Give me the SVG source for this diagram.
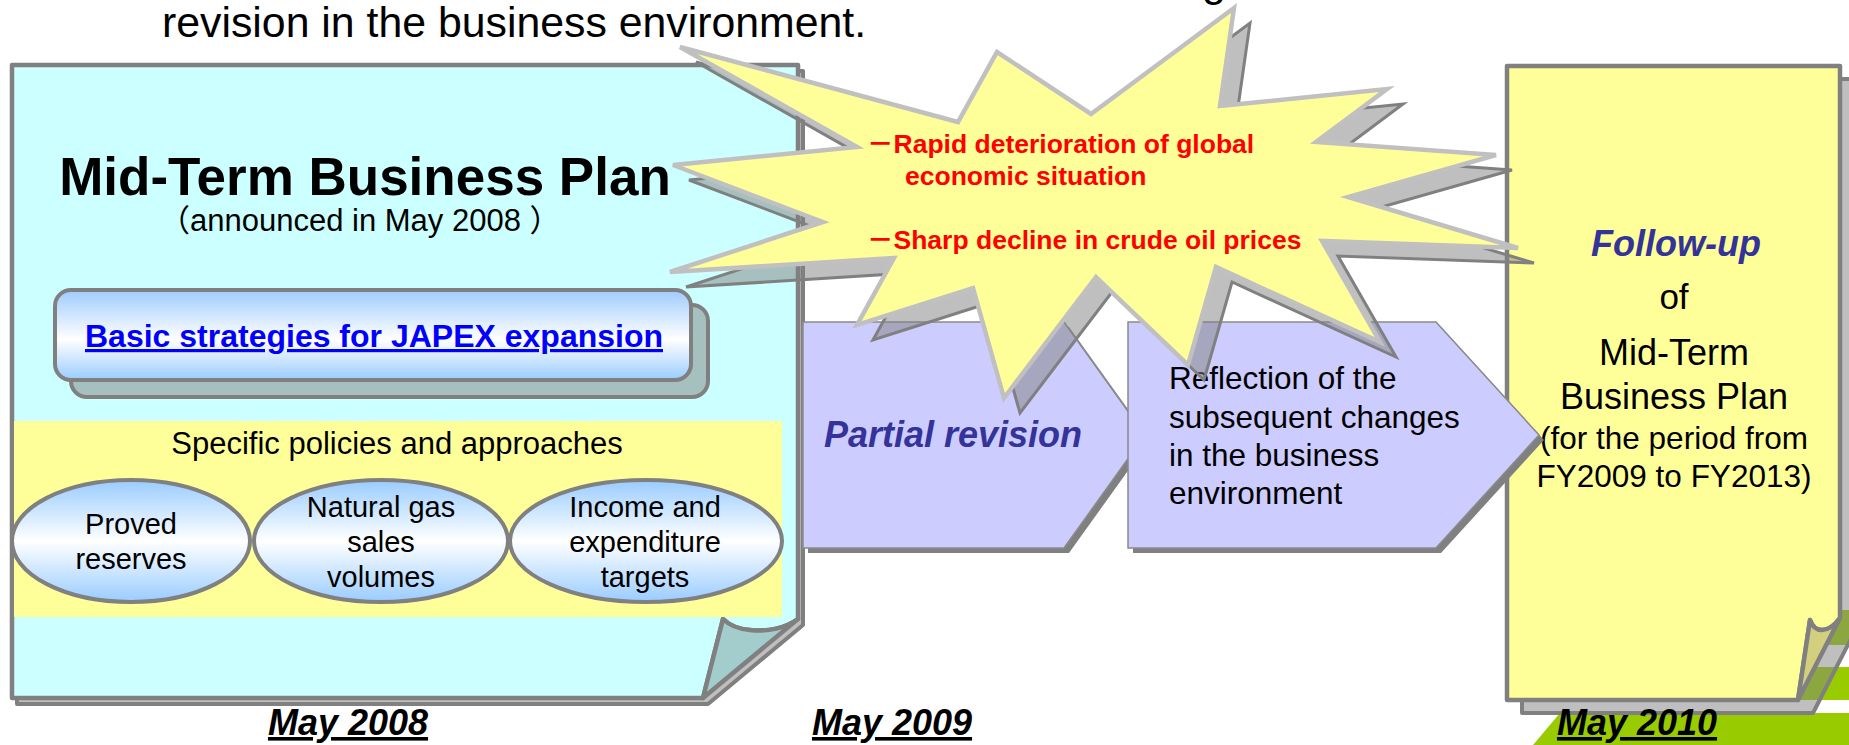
<svg xmlns="http://www.w3.org/2000/svg" width="1849" height="745" viewBox="0 0 1849 745">
  <defs>
    <linearGradient id="glossBlue" x1="0" y1="0" x2="0" y2="1">
      <stop offset="0" stop-color="#99CCFF"/>
      <stop offset="0.5" stop-color="#FFFFFF"/>
      <stop offset="1" stop-color="#99CCFF"/>
    </linearGradient>
    <linearGradient id="glossButton" x1="0" y1="0" x2="0" y2="1">
      <stop offset="0" stop-color="#9FCBFF"/>
      <stop offset="0.55" stop-color="#FFFFFF"/>
      <stop offset="1" stop-color="#99CCFF"/>
    </linearGradient>
    <!-- explosion outline, reused for the burst and its drop shadow -->
    <polygon id="burstShape" points="1234,8 1220,106 1387,89 1316,142 1496,155 1348,197 1518,248 1322,241 1380,342 1216,267 1188,365 1096,277 1004,398 973,288 857,325 894,258 670,272 823,222 673,165 857,147 680,47 958,122 997,52 1091,114"/>
    <polygon id="chevronA" points="803,322 1064,322 1145,435 1064,548 803,548"/>
    <polygon id="chevronB" points="1128,322 1436,322 1539,435 1436,548 1128,548"/>
  </defs>
  <style>
    text { font-family: "Liberation Sans", Arial, "Noto Sans CJK JP", sans-serif; fill: #000000; }
    .ctr { text-anchor: middle; }
    .page-back { fill: #808080; fill-opacity: 0.5; stroke: #808080; stroke-width: 4; stroke-linejoin: round; }
    .page { stroke: #808080; stroke-width: 4.5; stroke-linejoin: round; }
    .cyan { fill: #CCFFFF; }
    .cyan-flap { fill: #A3CCCC; }
    .yellow { fill: #FFFF99; }
    .yellow-flap { fill: #D2CF7E; }
    .stripe { fill: #99CC00; }
    .pill { fill: url(#glossBlue); stroke: #808080; stroke-width: 4; }
    .chev { fill: #CCCCFF; stroke: #8A8A8A; stroke-width: 1.5; stroke-linejoin: miter; }
    .chev-shadow { fill: #808080; }
    .burst { fill: #FFFF99; stroke: #C0C0C0; stroke-width: 4.5; stroke-linejoin: miter; }
    .burst-shadow { fill: #808080; fill-opacity: 0.5; stroke: #808080; stroke-width: 3; stroke-linejoin: miter; }
    .hl { font-weight: bold; font-style: italic; fill: #333399; }
    .alert { font-weight: bold; fill: #FF0000; font-size: 26.5px; }
    .date { font-weight: bold; font-style: italic; font-size: 36px; text-decoration: underline; }
  </style>

  <!-- heading line carried over from the slide above -->
  <g id="heading">
    <text x="1202" y="-4" font-size="43">g</text>
    <text x="162" y="37" font-size="42.8">revision in the business environment.</text>
  </g>

  <!-- decorative stripes at the lower right -->
  <g id="stripes">
    <polygon class="stripe" points="1580,645 1600,610 1849,610 1849,645"/>
    <polygon class="stripe" points="1580,700 1600,667 1849,667 1849,700"/>
    <polygon class="stripe" points="1533,745 1560,713 1849,713 1849,745"/>
  </g>

  <!-- May 2008: original plan -->
  <g id="mid-term-plan">
    <path class="page-back" d="M17,71 H803 V625 L708,704 H17 Z"/>
    <path class="page cyan" d="M12,65 H798 V619 C786,628 768,632 750,630 C738,629 729,625 723,619 L703,698 H12 Z"/>
    <path class="page cyan-flap" d="M723,619 C729,625 738,629 750,630 C768,632 786,628 798,619 L703,698 Z"/>
    <text class="ctr" x="365" y="195" font-size="53" font-weight="bold">Mid-Term Business Plan</text>
    <text x="159" y="231" font-size="31">（announced in May 2008 ）</text>
  </g>

  <g id="basic-strategies">
    <rect x="71" y="305" width="637" height="92" rx="16" fill="#808080" fill-opacity="0.5" stroke="#808080" stroke-width="4"/>
    <rect x="55" y="290" width="636" height="90" rx="16" fill="url(#glossButton)" stroke="#808080" stroke-width="4"/>
    <text class="ctr" x="374" y="347" font-size="32" font-weight="bold" style="fill:#0000FF" text-decoration="underline">Basic strategies for JAPEX expansion</text>
  </g>

  <g id="specific-policies">
    <rect x="14" y="421" width="768" height="196" fill="#FFFF99"/>
    <text class="ctr" x="397" y="454" font-size="31">Specific policies and approaches</text>
  </g>

  <g id="proved-reserves">
    <ellipse class="pill" cx="131" cy="541" rx="119" ry="61"/>
    <text class="ctr" x="131" y="534" font-size="29">Proved</text>
    <text class="ctr" x="131" y="569" font-size="29">reserves</text>
  </g>
  <g id="gas-sales">
    <ellipse class="pill" cx="381" cy="541" rx="127" ry="61"/>
    <text class="ctr" x="381" y="517" font-size="29">Natural gas</text>
    <text class="ctr" x="381" y="552" font-size="29">sales</text>
    <text class="ctr" x="381" y="587" font-size="29">volumes</text>
  </g>
  <g id="income-targets">
    <ellipse class="pill" cx="646" cy="541" rx="136" ry="61"/>
    <text class="ctr" x="645" y="517" font-size="29">Income and</text>
    <text class="ctr" x="645" y="552" font-size="29">expenditure</text>
    <text class="ctr" x="645" y="587" font-size="29">targets</text>
  </g>

  <!-- May 2010: follow-up plan -->
  <g id="follow-up">
    <path class="page-back" d="M1522,79 H1855 V631 L1813,713 H1522 Z"/>
    <path class="page yellow" d="M1507,66 H1840 V618 C1834,626 1828,630 1822,630 C1816,630 1812,626 1810,620 L1798,700 H1507 Z"/>
    <path class="page yellow-flap" d="M1810,620 C1812,626 1816,630 1822,630 C1828,630 1834,626 1840,618 L1798,700 Z"/>
    <text class="ctr hl" x="1676" y="256" font-size="36">Follow-up</text>
    <text class="ctr" x="1674" y="309" font-size="35">of</text>
    <text class="ctr" x="1674" y="365" font-size="36">Mid-Term</text>
    <text class="ctr" x="1674" y="409" font-size="36">Business Plan</text>
    <text class="ctr" x="1674" y="449" font-size="31.5">(for the period from</text>
    <text class="ctr" x="1674" y="487" font-size="31.5">FY2009 to FY2013)</text>
  </g>

  <!-- chevrons leading from one plan to the next -->
  <g id="connectors">
    <g id="partial-revision">
      <use href="#chevronA" class="chev-shadow" transform="translate(5,5)"/>
      <use href="#chevronA" class="chev"/>
      <text class="ctr hl" x="953" y="447" font-size="36">Partial revision</text>
    </g>
    <g id="reflection">
      <use href="#chevronB" class="chev-shadow" transform="translate(5,5)"/>
      <use href="#chevronB" class="chev"/>
      <text x="1169" y="389" font-size="31.5">Reflection of the</text>
      <text x="1169" y="428" font-size="31.5">subsequent changes</text>
      <text x="1169" y="466" font-size="31.5">in the business</text>
      <text x="1169" y="504" font-size="31.5">environment</text>
    </g>
  </g>

  <!-- external events burst -->
  <g id="events-burst">
    <use href="#burstShape" class="burst-shadow" transform="translate(16,15)"/>
    <use href="#burstShape" class="burst"/>
    <text class="alert" x="867" y="153">－Rapid deterioration of global</text>
    <text class="alert" x="905" y="185">economic situation</text>
    <text class="alert" x="867" y="249">－Sharp decline in crude oil prices</text>
  </g>

  <!-- timeline labels -->
  <g id="dates">
    <text class="ctr date" x="348" y="735">May 2008</text>
    <text class="ctr date" x="892" y="735">May 2009</text>
    <text class="ctr date" x="1637" y="735">May 2010</text>
  </g>
</svg>
